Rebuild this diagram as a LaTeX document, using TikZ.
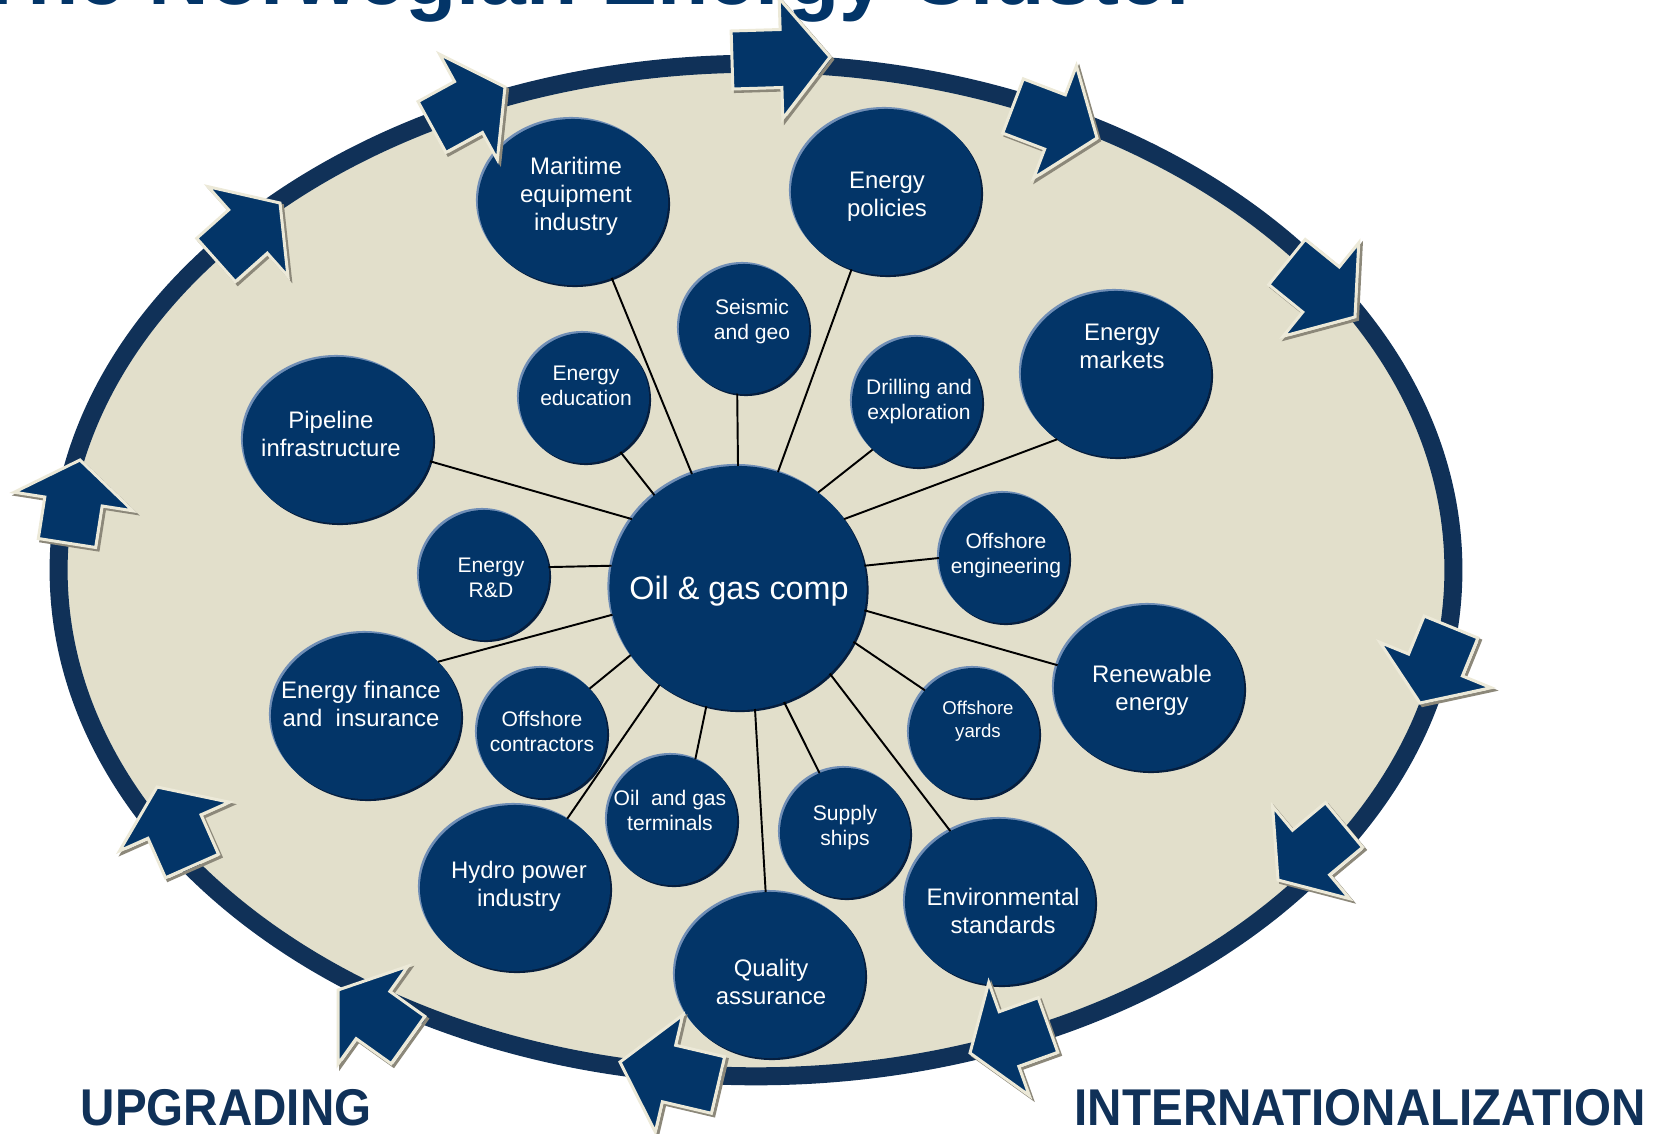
\documentclass[tikz,border=0pt]{standalone}
\usepackage{fontspec}
\setmainfont{Liberation Sans}
\usepackage{graphicx}
\usetikzlibrary{shapes.geometric,calc}
\definecolor{cluNavy}{RGB}{3,53,104}
\definecolor{cluBand}{RGB}{16,49,88}
\definecolor{cluSand}{RGB}{226,223,203}
\definecolor{cluCream}{RGB}{236,233,216}
\definecolor{cluShade}{RGB}{140,136,122}
\definecolor{cluRim}{RGB}{112,142,182}
\definecolor{cluDeep}{RGB}{6,30,62}
\begin{document}
\begin{tikzpicture}[x=0.01cm,y=-0.01cm,
	bub/.style={ellipse,fill=cluNavy,inner sep=0pt,outer sep=0pt,
		preaction={fill=cluDeep,transform canvas={shift={(0.02cm,-0.02cm)}}},
		preaction={fill=cluRim,transform canvas={shift={(-0.02cm,0.02cm)}}}},
	bubL/.style={bub,minimum width=2.57cm,minimum height=2.44cm},
	bubM/.style={bub,minimum width=1.9cm,minimum height=1.66cm},
	bubS/.style={bub,minimum width=1.3cm,minimum height=1.3cm},
	lbl/.style={text=white,align=center,inner sep=0pt},
	lblL/.style={lbl,font=\fontsize{9.2}{11}\selectfont},
	lblM/.style={lbl,font=\fontsize{6.8}{8}\selectfont},
	lblS/.style={lbl,font=\fontsize{6}{7.1}\selectfont},
	lblXS/.style={lbl,font=\fontsize{5.3}{6.7}\selectfont},
	link/.style={line width=0.55pt,black},
	blk/.style={fill=cluNavy,draw=cluCream,line width=0.03cm,
		preaction={draw=cluShade,line width=0.03cm,transform canvas={shift={(0.025cm,-0.025cm)}}}},
	bottomtxt/.style={font=\fontsize{14.7}{16}\selectfont\bfseries,text=cluBand,anchor=base west,inner sep=0pt}]
	\useasboundingbox (0,0) rectangle (1676,1133);
	\clip (0,0) rectangle (1676,1133);
	\node[font=\fontsize{23.9}{26}\selectfont\bfseries,text=cluNavy,anchor=base west,inner sep=0pt] (title) at (-25,4) {The Norwegian Energy Cluster};
	\draw[line width=0.18cm,draw=cluBand,fill=cluSand] (756,570) ellipse [x radius=6.97cm,y radius=5.06cm];
	\foreach \nm/\x/\y/\dx/\dy/\shp/\sty/\txt in {
		oil/738/588/1/3/bubL/lblL/{Oil \& gas comp},
		mar/573/202/3/-6/bubM/lblM/{Maritime\\equipment\\industry},
		pol/886/192/1/5/bubM/lblM/{Energy\\policies},
		seis/744/329/8/-7/bubS/lblS/{Seismic\\and geo},
		edu/584/398/2/-12/bubS/lblS/{Energy\\education},
		drill/917/402/2/0/bubS/lblS/{Drilling and\\exploration},
		mkt/1116/374/6/-28/bubM/lblM/{Energy\\markets},
		pipe/338/440/-7/-6/bubM/lblM/{Pipeline\\infrastructure},
		rnd/484/575/7/3/bubS/lblS/{Energy\\R\&D},
		offeng/1004/558/2/-2/bubS/lblS/{Offshore\\engineering},
		fin/366/716/-5/-12/bubM/lblM/{Energy finance\\and\ \ insurance},
		offcon/542/733/0/-2/bubS/lblS/{Offshore\\contractors},
		renew/1149/688/3/2/bubM/lblM/{Renewable\\energy},
		yards/974/733/4/-12/bubS/lblXS/{Offshore\\yards},
		term/672/820/-2/-10/bubS/lblS/{Oil\ \ and gas\\terminals},
		ships/845/833/0/-5/bubS/lblS/{Supply\\ships},
		hydro/515/888/4/-2/bubM/lblM/{Hydro power\\industry},
		qual/770/975/1/7/bubM/lblM/{Quality\\assurance},
		env/1000/902/3/9/bubM/lblM/{Environmental\\standards}}
	{
		\node[\shp] (\nm) at (\x,\y) {};
		\node[\sty] (\nm-t) at ($(\nm.center)+(\dx,\dy)$) {\txt};
	}
	\foreach \nm/\a/\b in {mar/112/-63,pol/71/-114,seis/90/-96,edu/132/-56,drill/50/-133,mkt/33/-132,
		pipe/147/-13,rnd/170/7,offeng/10/180,fin/192/37,offcon/212/43,renew/-10/166,yards/-25/139,
		term/255/69,ships/-68/113,hydro/-129/53,qual/-82/93,env/-43/125}
	\draw[link] (oil.\a) -- (\nm.\b);
	\foreach \tx/\ty/\ax/\ay in {216/260/280/203,432/127/505/87,732/60/830/57,1013/106/1097/138,
		1287/262/1355/317,1451/627/1420/703,1344/825/1278/880,1048/1025/970/1053,
		718/1085/620/1062,408/1040/338/990,192/866/157/787,67/543/80/460}
	{
		\coordinate (tail) at (\tx,\ty);
		\coordinate (tip) at (\ax,\ay);
		\coordinate (neck) at ($(tail)!0.5!(tip)$);
		\draw[blk] ($(tail)!0.29cm!90:(tip)$) -- ($(neck)!0.29cm!90:(tip)$) -- ($(neck)!0.6cm!90:(tip)$) -- (tip)
			-- ($(neck)!0.6cm!-90:(tip)$) -- ($(neck)!0.29cm!-90:(tip)$) -- ($(tail)!0.29cm!-90:(tip)$) -- cycle;
	}
	\node[bottomtxt] (upg) at (80,1125) {\scalebox{0.92}[1]{UPGRADING}};
	\node[bottomtxt] (intl) at (1074,1125) {\scalebox{0.92}[1]{INTERNATIONALIZATION}};
\end{tikzpicture}
\end{document}
